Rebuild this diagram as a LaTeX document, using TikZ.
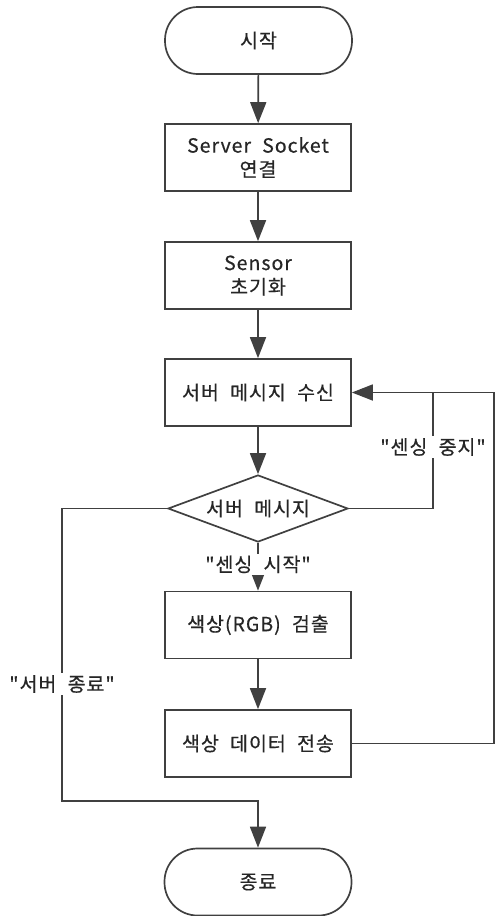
\documentclass[tikz,border=0pt]{standalone}
\usepackage{fontspec}
\newfontfamily\kfont{Noto Sans CJK KR}[LetterSpace=5,WordSpace=2.1,FakeBold=0.5]
\usetikzlibrary{shapes.geometric,arrows.meta}
\begin{document}
\begin{tikzpicture}[x=1pt,y=-1pt,
  line width=1.7pt,
  every node/.style={text=black!85, font=\kfont\fontsize{19.5}{24}\selectfont},
  term/.style={draw=black!75, rounded corners=33pt, minimum width=187pt, minimum height=67pt, inner sep=0pt},
  procbox/.style={draw=black!75, minimum width=186pt, minimum height=67pt, inner sep=0pt, align=center},
  decide/.style={draw=black!75, diamond, aspect=2.69, minimum width=180pt, minimum height=67pt, inner sep=0pt},
  lbl/.style={fill=white, inner sep=2pt},
  flow/.style={draw=black!75, -{Triangle[length=21pt,width=16pt]}},
  wire/.style={draw=black!75}]
\useasboundingbox (0,0) rectangle (497,916);
\node[term] (start) at (258.5,40.5) {시작};
\node[procbox] (conn) at (258,157.5) {Server Socket\\연결};
\node[procbox] (init) at (258,275.5) {Sensor\\초기화};
\node[procbox] (recv) at (258,392.5) {서버 메시지 수신};
\node[decide] (msg) at (258,508.5) {서버 메시지};
\node[procbox] (det) at (258,625) {색상(RGB) 검출};
\node[procbox] (send) at (258,743.5) {색상 데이터 전송};
\node[term] (end) at (258,882) {종료};
\coordinate (rj) at (433,392.5);
\coordinate (lb) at (62,801);
\path[flow] (start) -- (conn);
\path[flow] (conn) -- (init);
\path[flow] (init) -- (recv);
\path[flow] (recv) -- (msg);
\path[flow] (msg) -- node[lbl, pos=0.45] {"센싱 시작"} (det);
\path[flow] (det) -- (send);
\path[flow] (send.east) -- (494,743.5) -- (494,392.5) -- (recv.east);
\path[wire] (msg.east) -- (rj |- msg.east) -- node[lbl, pos=0.53] {"센싱 중지"} (rj);
\path[flow] (msg.west) -- (lb |- msg.west) -- node[lbl, pos=0.6] {"서버 종료"} (lb) -- (lb -| end) -- (end);
\end{tikzpicture}
\end{document}
